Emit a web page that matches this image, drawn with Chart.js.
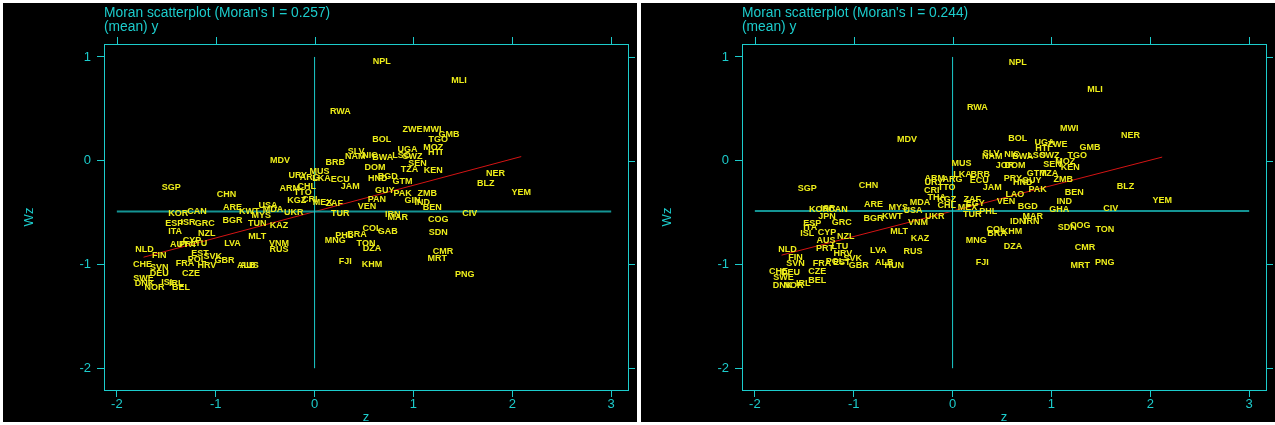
<!DOCTYPE html>
<html>
<head>
<meta charset="utf-8">
<script src="https://cdn.jsdelivr.net/npm/chart.js@4"></script>
<style>
    body { margin: 0; background: #fff; width: 1275px; height: 425px; overflow: hidden; }
    .panel { position: absolute; top: 3px; width: 634px; height: 419px; background: #000; }
</style>
</head>
<body>
<div class="panel" style="left:3px"><canvas id="leftChart" width="634" height="419"></canvas></div>
<div class="panel" style="left:641px"><canvas id="rightChart" width="634" height="419"></canvas></div>
<script>
// tick labels and axis range
const xTicks = [-2, -1, 0, 1, 2, 3];
const yTicks = [-2, -1, 0, 1];

// left panel: Moran's I = 0.257
const leftCodes = ['NPL','MLI','RWA','BOL','ZWE','MWI','GMB','TGO','MOZ','HTI','UGA','SWZ','LSO','BWA','NIC','SLV','NAM','SEN','TZA','KEN',
    'DOM','HND','BGD','GTM','JAM','ECU','BRB','MDV','MUS','URY','ARG','LKA','ARM','CHL','TTO','KGZ','CRI','MEX','ZAF','TUR',
    'VEN','UKR','PAN','GUY','PAK','ZMB','GIN','IND','BEN','CIV','COG','SDN','CMR','MRT','PNG','NER','BLZ','YEM','IRN','MAR',
    'COL','GAB','BRA','PHL','MNG','TON','DZA','FJI','KHM','SGP','CHN','ARE','KWT','MDA','USA','MYS','TUN','KAZ','MLT','VNM',
    'RUS','LVA','BGR','KOR','CAN','ESP','ISR','GRC','ITA','NZL','CYP','AUT','PRT','LTU','NLD','FIN','CHE','SVN','DEU','FRA',
    'EST','SVK','POL','HRV','GBR','CZE','SWE','DNK','NOR','BEL','ISL','IRL','ALB','AUS'];
const leftZ = [0.68,1.46,0.26,0.68,0.99,1.19,1.36,1.25,1.20,1.22,0.94,0.99,0.88,0.69,0.56,0.42,0.41,1.04,0.96,1.20,
    0.61,0.64,0.74,0.89,0.36,0.26,0.21,-0.35,0.05,-0.17,-0.05,0.07,-0.25,-0.08,-0.12,-0.18,-0.05,0.08,0.20,0.26,
    0.53,-0.21,0.63,0.71,0.89,1.14,0.99,1.09,1.19,1.57,1.25,1.25,1.30,1.24,1.52,1.83,1.73,2.09,0.79,0.84,
    0.58,0.74,0.43,0.30,0.21,0.52,0.58,0.31,0.58,-1.45,-0.89,-0.83,-0.66,-0.42,-0.47,-0.54,-0.58,-0.36,-0.58,-0.36,
    -0.36,-0.83,-0.83,-1.38,-1.19,-1.42,-1.28,-1.11,-1.41,-1.09,-1.24,-1.37,-1.28,-1.17,-1.72,-1.57,-1.74,-1.57,-1.57,-1.31,
    -1.16,-1.03,-1.19,-1.09,-0.91,-1.25,-1.73,-1.72,-1.62,-1.35,-1.48,-1.40,-0.69,-0.66];
const leftWz = [0.96,0.77,0.47,0.20,0.30,0.30,0.25,0.20,0.13,0.08,0.11,0.04,0.05,0.03,0.05,0.09,0.04,-0.03,-0.08,-0.09,
    -0.07,-0.17,-0.15,-0.20,-0.25,-0.18,-0.02,0.00,-0.10,-0.14,-0.16,-0.17,-0.27,-0.25,-0.31,-0.38,-0.37,-0.40,-0.41,-0.51,
    -0.44,-0.50,-0.37,-0.29,-0.32,-0.32,-0.38,-0.40,-0.45,-0.51,-0.57,-0.69,-0.88,-0.94,-1.10,-0.12,-0.22,-0.31,-0.52,-0.55,
    -0.65,-0.68,-0.71,-0.72,-0.77,-0.80,-0.85,-0.97,-1.00,-0.26,-0.33,-0.45,-0.49,-0.47,-0.43,-0.53,-0.61,-0.62,-0.73,-0.80,
    -0.86,-0.80,-0.58,-0.51,-0.49,-0.61,-0.60,-0.61,-0.68,-0.70,-0.77,-0.81,-0.81,-0.80,-0.86,-0.91,-1.00,-1.03,-1.09,-0.99,
    -0.89,-0.92,-0.95,-1.01,-0.96,-1.09,-1.14,-1.18,-1.22,-1.22,-1.17,-1.18,-1.01,-1.01];
const leftMeanWz = -0.49;
const leftFitZ = [-1.73, 2.09];
const leftFitWz = [-0.93, 0.04];

// right panel: Moran's I = 0.244
const rightCodes = ['NPL','MLI','RWA','MWI','NER','MDV','BOL','UGA','ZWE','HTI','GMB','NIC','BWA','LSO','SWZ','TGO','MOZ','KEN','SEN','TZA',
    'GTM','ZMB','PAK','BEN','IND','GHA','CIV','BLZ','YEM','TON','COG','SDN','CMR','MRT','PNG','DZA','MAR','IDN','IRN','BGD',
    'LAO','VEN','PRY','HND','GUY','DOM','JOR','SLV','NAM','MUS','LKA','BRB','ECU','ARM','ARG','URY','TTO','CRI','JAM','MDA',
    'THA','KGZ','ZAF','CHL','MEX','EGY','TUR','PHL','UKR','VNM','KAZ','COL','BRA','KHM','MNG','FJI','SGP','CHN','KOR','ISR',
    'CAN','ARE','MYS','USA','KWT','BGR','JPN','GRC','ESP','ITA','ISL','CYP','NZL','MLT','AUS','PRT','LTU','NLD','FIN','SVN',
    'CHE','DEU','CZE','FRA','POL','EST','HRV','SVK','GBR','LVA','ALB','HUN','RUS','SWE','DNK','NOR','BEL','IRL'];
const rightZ = [0.66,1.44,0.25,1.18,1.80,-0.46,0.66,0.93,1.06,0.91,1.39,0.60,0.71,0.85,0.98,1.26,1.14,1.19,1.01,0.98,
    0.85,1.12,0.86,1.23,1.13,1.08,1.60,1.75,2.12,1.54,1.29,1.16,1.34,1.29,1.54,0.61,0.81,0.66,0.80,0.76,
    0.63,0.54,0.61,0.71,0.80,0.63,0.53,0.39,0.40,0.09,0.10,0.28,0.27,-0.18,0.00,-0.19,-0.06,-0.21,0.40,-0.33,
    -0.16,-0.06,0.20,-0.06,0.15,0.23,0.20,0.36,-0.18,-0.35,-0.33,0.44,0.45,0.60,0.24,0.30,-1.47,-0.85,-1.35,-1.26,
    -1.16,-0.80,-0.55,-0.40,-0.61,-0.80,-1.27,-1.12,-1.42,-1.44,-1.47,-1.27,-1.08,-0.54,-1.28,-1.29,-1.14,-1.67,-1.59,-1.59,
    -1.76,-1.64,-1.37,-1.32,-1.19,-1.12,-1.11,-1.01,-0.95,-0.75,-0.69,-0.59,-0.40,-1.71,-1.72,-1.61,-1.37,-1.51];
const rightWz = [0.95,0.69,0.51,0.31,0.24,0.20,0.21,0.18,0.16,0.12,0.13,0.06,0.04,0.05,0.05,0.05,-0.01,-0.07,-0.04,-0.12,
    -0.12,-0.18,-0.28,-0.31,-0.39,-0.47,-0.46,-0.25,-0.38,-0.66,-0.62,-0.64,-0.84,-1.01,-0.98,-0.83,-0.54,-0.59,-0.59,-0.44,
    -0.33,-0.39,-0.17,-0.21,-0.19,-0.05,-0.05,0.07,0.04,-0.03,-0.13,-0.13,-0.19,-0.17,-0.18,-0.21,-0.26,-0.29,-0.26,-0.40,
    -0.35,-0.37,-0.37,-0.43,-0.45,-0.41,-0.52,-0.49,-0.54,-0.60,-0.75,-0.66,-0.70,-0.68,-0.77,-0.98,-0.27,-0.24,-0.47,-0.46,
    -0.47,-0.42,-0.45,-0.48,-0.54,-0.56,-0.54,-0.60,-0.61,-0.64,-0.70,-0.69,-0.73,-0.68,-0.77,-0.85,-0.83,-0.86,-0.93,-0.99,
    -1.07,-1.08,-1.07,-0.99,-0.97,-0.98,-0.89,-0.94,-1.01,-0.87,-0.98,-1.01,-0.88,-1.13,-1.20,-1.20,-1.15,-1.18];
const rightMeanWz = -0.485;
const rightFitZ = [-1.73, 2.12];
const rightFitWz = [-0.91, 0.035];

const CYAN = '#1ccccc';
const YELLOW = '#eeee1a';
const FONT = "'Liberation Sans', Arial, sans-serif";

// draws the country codes at the points
const codeLabels = {
    id: 'codeLabels',
    afterDatasetsDraw(chart) {
        const ctx = chart.ctx;
        const ds = chart.data.datasets[0];
        const meta = chart.getDatasetMeta(0);
        ctx.save();
        ctx.fillStyle = YELLOW;
        ctx.font = 'bold 9px ' + FONT;
        ctx.textAlign = 'center';
        ctx.textBaseline = 'middle';
        meta.data.forEach((pt, i) => {
            ctx.fillText(ds.data[i].code, pt.x, pt.y);
        });
        ctx.restore();
    }
};

// titles, plot box and the mirrored ticks on top and right
const frame = {
    id: 'frame',
    afterDraw(chart) {
        const ctx = chart.ctx;
        const a = chart.chartArea;
        const xs = chart.scales.x, ys = chart.scales.y;
        ctx.save();
        ctx.strokeStyle = CYAN;
        ctx.lineWidth = 1;
        ctx.strokeRect(Math.round(a.left) + 0.5, Math.round(a.top) + 0.5, Math.round(a.right - a.left), Math.round(a.bottom - a.top));
        ctx.beginPath();
        xTicks.forEach(v => {
            const px = Math.round(xs.getPixelForValue(v)) + 0.5;
            ctx.moveTo(px, a.top);
            ctx.lineTo(px, a.top - 7);
        });
        yTicks.forEach(v => {
            const py = Math.round(ys.getPixelForValue(v)) + 0.5;
            ctx.moveTo(a.right, py);
            ctx.lineTo(a.right + 7, py);
        });
        ctx.stroke();
        ctx.fillStyle = CYAN;
        ctx.font = '13.8px ' + FONT;
        ctx.textBaseline = 'middle';
        ctx.fillText(chart.options.plugins.frame.title, a.left, 10);
        ctx.fillText('(mean) y', a.left, 24);
        ctx.restore();
    }
};

function makeChart(id, codes, z, wz, meanWz, fitZ, fitWz, title) {
    const points = codes.map((c, i) => ({x: z[i], y: wz[i], code: c}));
    new Chart(document.getElementById(id).getContext('2d'), {
        type: 'scatter',
        data: {
            datasets: [
                {data: points, pointRadius: 0, showLine: false},
                {data: [{x: 0, y: yTicks[0]}, {x: 0, y: yTicks[yTicks.length - 1]}],
                    showLine: true, pointRadius: 0, borderColor: CYAN, borderWidth: 1},
                {data: [{x: xTicks[0], y: meanWz}, {x: xTicks[xTicks.length - 1], y: meanWz}],
                    showLine: true, pointRadius: 0, borderColor: '#149494', borderWidth: 2},
                {data: fitZ.map((v, i) => ({x: v, y: fitWz[i]})),
                    showLine: true, pointRadius: 0, borderColor: '#d41414', borderWidth: 1}
            ]
        },
        options: {
            responsive: false,
            animation: false,
            layout: {padding: {top: 41, right: 9, left: 0, bottom: 0}},
            plugins: {
                legend: {display: false},
                tooltip: {enabled: false},
                frame: {title: title}
            },
            scales: {
                x: {
                    type: 'linear', min: -2.13, max: 3.17,
                    afterBuildTicks: s => { s.ticks = xTicks.map(v => ({value: v})); },
                    afterFit: s => { s.height = 32; },
                    grid: {display: true, drawOnChartArea: false, drawTicks: true, tickLength: 7, color: CYAN},
                    border: {display: true, color: CYAN},
                    ticks: {color: CYAN, font: {size: 13, family: FONT}, padding: 0, maxRotation: 0},
                    title: {display: true, text: 'z', color: CYAN, font: {size: 13, family: FONT, lineHeight: 1}, padding: {top: 0, bottom: -2}}
                },
                y: {
                    type: 'linear', min: -2.21, max: 1.125,
                    afterBuildTicks: s => { s.ticks = yTicks.map(v => ({value: v})); },
                    afterFit: s => { s.width = 101; },
                    grid: {display: true, drawOnChartArea: false, drawTicks: true, tickLength: 7, color: CYAN},
                    border: {display: true, color: CYAN},
                    ticks: {color: CYAN, font: {size: 13, family: FONT}, padding: 6},
                    title: {display: true, text: 'Wz', color: CYAN, font: {size: 13, family: FONT}, padding: {top: 19, bottom: 0}}
                }
            }
        },
        plugins: [codeLabels, frame]
    });
}

makeChart('leftChart', leftCodes, leftZ, leftWz, leftMeanWz, leftFitZ, leftFitWz, "Moran scatterplot (Moran's I = 0.257)");
makeChart('rightChart', rightCodes, rightZ, rightWz, rightMeanWz, rightFitZ, rightFitWz, "Moran scatterplot (Moran's I = 0.244)");
</script>
</body>
</html>
